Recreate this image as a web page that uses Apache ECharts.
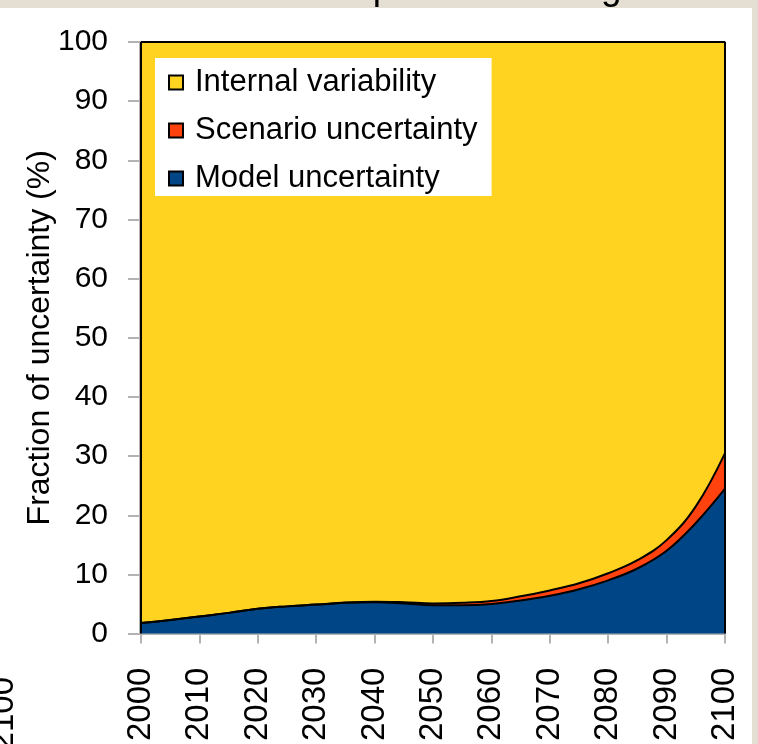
<!DOCTYPE html>
<html>
<head>
<meta charset="utf-8">
<script src="https://cdn.jsdelivr.net/npm/echarts@6/dist/echarts.min.js"></script>
<style>
html,body{margin:0;padding:0;background:#e5ded3;}
#chart{width:758px;height:744px;}
</style>
</head>
<body>
<div id="chart"></div>
<script>
const years = [2000,2005,2010,2015,2020,2025,2030,2035,2040,2045,2050,2055,2060,2065,2070,2075,2080,2085,2090,2095,2100];
const modelUncertainty = [1.8,2.3,2.9,3.5,4.2,4.6,4.9,5.2,5.3,5.1,4.8,4.8,5.0,5.6,6.4,7.5,9.0,11.0,14.0,18.7,24.5];
const scenarioUncertainty = [0.0,0.0,0.0,0.0,0.0,0.0,0.0,0.05,0.1,0.2,0.3,0.4,0.5,0.7,0.9,1.0,1.2,1.4,1.8,2.8,6.0];
const internalVariability = [98.2,97.7,97.1,96.5,95.8,95.4,95.1,94.75,94.6,94.7,94.9,94.8,94.5,93.7,92.7,91.5,89.8,87.6,84.2,78.5,69.5];
const yTicks = {min:0,max:100,interval:10};
const seriesNames = ['Model uncertainty','Scenario uncertainty','Internal variability'];
const colors = {'Model uncertainty':'#004586','Scenario uncertainty':'#ff420e','Internal variability':'#ffd320'};

const FONT = '"Liberation Sans", Arial, sans-serif';
const gray = '#b3b3b3';
const valuesByName = {
  'Model uncertainty': modelUncertainty,
  'Scenario uncertainty': scenarioUncertainty,
  'Internal variability': internalVariability
};

const series = seriesNames.map((name, idx) => {
  const s = {
    name: name,
    type: 'line',
    stack: 'total',
    smooth: 0.4,
    symbol: 'none',
    data: valuesByName[name],
    lineStyle: {color:'#000', width:2},
    itemStyle: {color: colors[name]},
    areaStyle: {color: colors[name], opacity:1},
    z: 1,
    zlevel: 0
  };
  if (name === 'Internal variability') {
    s.markLine = {
      silent: true,
      symbol: 'none',
      label: {show:false},
      lineStyle: {color:'#000', width:2, type:'solid'},
      data: [{xAxis: String(years[0])}, {xAxis: String(years[years.length-1])}]
    };
  }
  return s;
});

const chart = echarts.init(document.getElementById('chart'), null, {renderer:'canvas'});
chart.setOption({
  backgroundColor: '#e5ded3',
  animation: false,
  graphic: [
    {type:'rect', z:-10, shape:{x:0,y:8,width:752,height:736}, style:{fill:'#ffffff'}},
    {type:'text', z:-5, x:91, y:7, style:{text:'Global mean temperature change', font:'37px ' + FONT, fill:'#000', align:'left', verticalAlign:'bottom'}},
    {type:'text', z:-5, x:4, y:677, rotation:Math.PI/2, style:{text:'2100', font:'33px ' + FONT, fill:'#000', align:'right', verticalAlign:'middle'}}
  ],
  grid: {left:141, right:33, top:42, bottom:102, show:true, borderColor:gray, borderWidth:2, backgroundColor:'transparent'},
  legend: {
    z: 20,
    orient:'vertical',
    left:155, top:58,
    backgroundColor:'#ffffff',
    padding:[9,14,2,13],
    itemGap:17,
    itemWidth:14, itemHeight:14,
    icon:'rect',
    textStyle:{fontFamily:FONT, fontSize:31, color:'#000', padding:[0,0,0,7]},
    data: ['Internal variability','Scenario uncertainty','Model uncertainty'].map(n => ({
      name:n, icon:'rect',
      itemStyle:{color:colors[n], borderColor:'#000', borderWidth:2}
    }))
  },
  xAxis: {
    type:'category',
    data: years.map(String),
    boundaryGap:false,
    axisLine:{show:true, lineStyle:{color:gray, width:2}},
    axisTick:{show:true, interval:1, length:10, lineStyle:{color:gray, width:2}},
    splitLine:{show:false},
    axisLabel:{interval:1, rotate:90, margin:34, fontFamily:FONT, fontSize:33, color:'#000'}
  },
  yAxis: {
    type:'value',
    min:yTicks.min, max:yTicks.max, interval:yTicks.interval,
    offset:1,
    name:'Fraction of uncertainty (%)',
    nameLocation:'middle',
    nameGap:84,
    nameMoveOverlap:false,
    nameRotate:90,
    nameTextStyle:{fontFamily:FONT, fontSize:32, color:'#000'},
    axisLine:{show:true, lineStyle:{color:gray, width:2}},
    axisTick:{show:true, length:12, lineStyle:{color:gray, width:2}},
    splitLine:{show:false},
    axisLabel:{margin:32, fontFamily:FONT, fontSize:30, color:'#000'}
  },
  series: series
});
</script>
</body>
</html>
